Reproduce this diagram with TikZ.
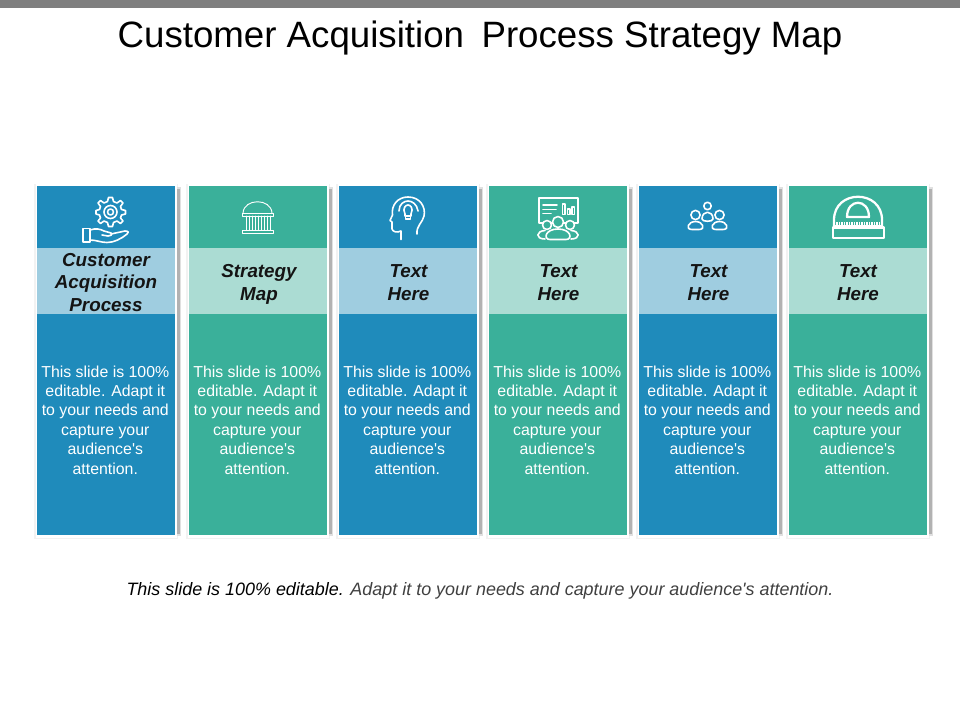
\documentclass[tikz,border=0pt]{standalone}
\usepackage{fontspec}
\setmainfont{Liberation Sans}
\usetikzlibrary{calc}
\definecolor{cblue}{HTML}{1F8BBB}
\definecolor{cgreen}{HTML}{3AB09A}
\definecolor{lblue}{HTML}{9FCDE0}
\definecolor{lgreen}{HTML}{ABDCD3}
\definecolor{topgray}{HTML}{7F7F7F}
\definecolor{footgray}{HTML}{404040}
\tikzset{
  band/.style={inner sep=0pt,outer sep=0pt,anchor=north west,minimum width=137.5*0.75pt},
  headtxt/.style={font=\fontsize{14.1pt}{17.2pt}\selectfont\bfseries\itshape,align=center,text=black!92,inner sep=0pt},
  bodytxt/.style={font=\fontsize{11.9pt}{14.6pt}\selectfont,align=center,text=white,inner sep=0pt},
  ico/.style={draw=white,line width=1.2pt,line cap=round,line join=round},
  icothin/.style={draw=white,line width=0.7pt,line cap=round,line join=round},
  icothick/.style={draw=white,line width=1.7pt,line cap=round,line join=round}
}
\newcommand{\colmn}[7]{% id, x, dark, light, heading, text x, head y
  \fill[black!5] (#2-3,184) rectangle (#2+141,539);
  \fill[black!12] (#2+139,187) rectangle (#2+144,536);
  \fill[black!30] (#2+139,189) rectangle (#2+143,534);
  \fill[white] (#2-1.5,184.5) rectangle (#2+139.5,537.5);
  \node[band,fill=#3,minimum height=62*0.75pt] (d#1) at (#2,186) {};
  \node[band,fill=#4,minimum height=66*0.75pt] (l#1) at (#2,248) {};
  \node[band,fill=#3,minimum height=221*0.75pt] (b#1) at (#2,314) {};
  \node[headtxt] (h#1) at (#6,#7) {#5};
  \node[bodytxt] (t#1) at (#2+68.3,420) {This slide is 100\%\\editable. Adapt it\\to your needs and\\capture your\\audience\textquotesingle s\\attention.};
}
\begin{document}
\begin{tikzpicture}[x=0.75pt,y=-0.75pt]
\useasboundingbox (0,0) rectangle (960,720);
\fill[white] (0,0) rectangle (960,720);
\fill[topgray] (0,0) rectangle (960,8);
\node[inner sep=0pt,font=\fontsize{27.5pt}{32pt}\selectfont,text=black] (title) at (480,38) {Customer Acquisition\hspace{0.2em} Process Strategy Map};

\colmn{a}{37}{cblue}{lblue}{Customer\\Acquisition\\Process}{106}{282.5}
\colmn{b}{189}{cgreen}{lgreen}{Strategy\\Map}{259}{284}
\colmn{c}{339}{cblue}{lblue}{Text\\Here}{408.5}{282.5}
\colmn{d}{489}{cgreen}{lgreen}{Text\\Here}{558.5}{282.5}
\colmn{e}{639}{cblue}{lblue}{Text\\Here}{708.5}{282.5}
\colmn{f}{789}{cgreen}{lgreen}{Text\\Here}{858}{282.5}

% gear and hand
\draw[ico] plot coordinates {
 (108.5,197.5)(112.5,197.5)(113.5,201.5)(117,203)(120.5,200.5)(123,203)(120.5,206.5)(121.5,209.5)(125.5,210.5)(125.5,214)(121.5,215)(120.5,218)(123,221)(120.5,223.5)(117,221)(113.5,222.5)(112.5,226.5)(108.5,226.5)(107.5,222.5)(104,221)(100.5,223.5)(98,221)(100.5,218)(99.5,215)(96,214)(96,210.5)(99.5,209.5)(100.5,206.5)(98,203)(100.5,200.5)(104,203)(107.5,201.5)(108.5,197.5)};
\draw[ico] (110.5,212) circle (6.5);
\draw[ico] (110.5,212) circle (3);
\draw[ico] (83,228.5) rectangle (90,242);
\draw[ico] (90,230) .. controls (96,228) and (100,229) .. (104,231) -- (111,233) .. controls (113,235) and (110,236) .. (108,236) -- (102,235);
\draw[ico] (111,234) -- (125,231) .. controls (129,231) and (129,233) .. (127,234) .. controls (121,239) and (114,242.5) .. (107,242.5) .. controls (101,242.5) and (96,240) .. (90,240);

% bank
\draw[icothin] (243,213) .. controls (244,198) and (271,198) .. (272,213);
\draw[icothin] (242,213) -- (273,213) -- (273,216) -- (242,216) -- cycle;
\draw[icothin] (242,230) -- (273,230) -- (273,233) -- (242,233) -- cycle;
\foreach \q in {246,249,252,255,258,261,264,267,270}{\draw[icothin] (\q,216) -- (\q,230);}

% head with bulb
\draw[ico] (401,239.5) -- (401,231) .. controls (397,233) and (393,232) .. (392,229) -- (392,222) -- (390,220.5) -- (392.5,215) .. controls (391,205) and (398,197) .. (408,197) .. controls (420,197) and (426,207) .. (424,216) .. controls (423,222) and (416,226) .. (417,234);
\draw[ico] (399,211) .. controls (399,204) and (404,201) .. (408,201) .. controls (412,201) and (417,204) .. (418,211);
\draw[ico] (405,214) .. controls (402,208) and (406,205) .. (408,205) .. controls (410,205) and (414,208) .. (411,214) -- (411,216) -- (405,216) -- cycle;
\draw[ico] (405.5,216) rectangle (410.5,219);

% board and audience
\draw[ico] (539,223) -- (539,198) -- (578,198) -- (578,223) -- cycle;
\draw[ico] (543,205) -- (557,205);
\draw[ico] (543,209.5) -- (556,209.5);
\draw[ico] (543,213.5) -- (551,213.5);
\draw[ico] (562.5,214.5) -- (562.5,204) -- (565,204) -- (565,214.5) -- cycle;
\draw[ico] (567.5,214.5) -- (567.5,209) -- (570,209) -- (570,214.5) -- cycle;
\draw[ico] (572,214.5) -- (572,207) -- (574.5,207) -- (574.5,214.5) -- cycle;
\draw[ico,fill=cgreen] (547,225) circle (4.5);
\draw[ico,fill=cgreen] (570,225) circle (4.5);
\draw[ico,fill=cgreen] (558,222) circle (5.5);
\draw[ico] (545,239) .. controls (535,239) and (536,231) .. (545,230.5);
\draw[ico] (571,239) .. controls (581,239) and (580,231) .. (571,230.5);
\draw[ico,fill=cgreen] (550,239.5) .. controls (543,239.5) and (545,229) .. (558,229) .. controls (571,229) and (573,239.5) .. (566,239.5) -- cycle;

% team
\draw[ico] (707.5,206) circle (3.7);
\draw[ico] (702,219) .. controls (702,210) and (713,210) .. (713,219) .. controls (713,222) and (702,222) .. (702,219);
\draw[ico] (695.5,215) circle (4.6);
\draw[ico] (719.5,215) circle (4.6);
\draw[ico] (692,229.5) .. controls (685,229.5) and (688,221.5) .. (695.5,221.5) .. controls (703,221.5) and (706,229.5) .. (699,229.5) -- cycle;
\draw[ico] (716,229.5) .. controls (709,229.5) and (712,221.5) .. (719.5,221.5) .. controls (727,221.5) and (730,229.5) .. (723,229.5) -- cycle;

% protractor with ruler
\draw[icothick] (834,227) -- (834,220) .. controls (834,189) and (882,189) .. (882,220) -- (882,227);
\draw[icothick] (833,227.5) rectangle (884,238);
\draw[icothick] (847,217) .. controls (847,198) and (869,198) .. (869,217) -- cycle;
\draw[draw=white,line width=1.2pt] (835,226) -- (881,226);
\foreach \q in {837,839.5,...,880}{\draw[draw=white,line width=0.8pt] (\q,222.5) -- (\q,226);}

\node[inner sep=0pt,font=\fontsize{13.45pt}{16pt}\selectfont\itshape] (foot) at (480,590.5) {\textcolor{black}{This slide is 100\% editable.} \textcolor{footgray}{Adapt it to your needs and capture your audience\textquotesingle s attention.}};
\end{tikzpicture}
\end{document}
